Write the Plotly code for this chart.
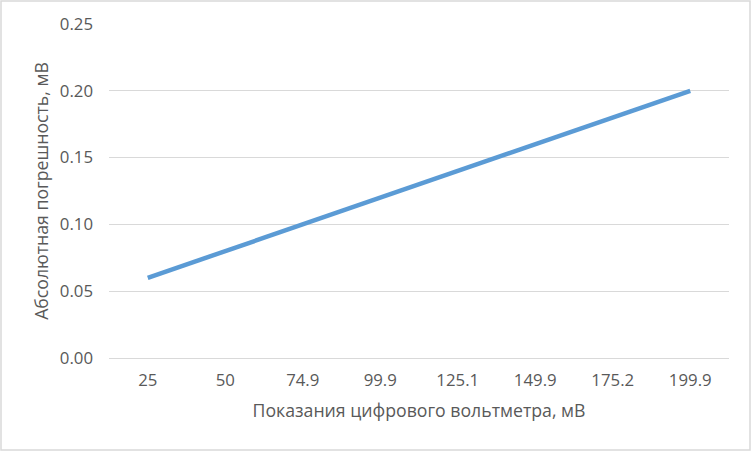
import plotly.graph_objects as go

categories = ["25", "50", "74.9", "99.9", "125.1", "149.9", "175.2", "199.9"]
errors = [0.06, 0.08, 0.10, 0.12, 0.14, 0.16, 0.18, 0.20]
y_ticks = [0.00, 0.05, 0.10, 0.15, 0.20, 0.25]

W, H = 752, 452
L, R, T, B = 109, 23, 24, 94
pw, ph = W - L - R, H - T - B

fig = go.Figure()
fig.add_trace(go.Scatter(
    x=list(range(len(categories))), y=errors, mode="lines",
    line=dict(color="#5B9BD5", width=4.5),
    hoverinfo="skip", showlegend=False,
))

font = "'Open Sans', sans-serif"
fig.update_layout(
    width=W, height=H,
    margin=dict(l=L, r=R, t=T, b=B),
    paper_bgcolor="white", plot_bgcolor="white",
    font=dict(family=font, color="#595959", size=16),
    xaxis=dict(
        range=[-0.5, len(categories) - 0.5],
        tickvals=list(range(len(categories))), ticktext=categories,
        showgrid=False, zeroline=False, showline=False,
        ticks="", ticklabelstandoff=10,
        tickfont=dict(size=16.8, color="#595959"),
        title=dict(text="Показания цифрового вольтметра, мВ",
                   font=dict(size=17.7, color="#595959"), standoff=14),
    ),
    yaxis=dict(
        range=[0, 0.25], tickvals=y_ticks,
        ticktext=[f"{v:.2f}" for v in y_ticks],
        showgrid=True, gridcolor="#D9D9D9", gridwidth=1,
        zeroline=True, zerolinecolor="#D9D9D9", zerolinewidth=1,
        showline=False, ticks="", ticklabelstandoff=15,
        tickfont=dict(size=16.8, color="#595959"),
        title=dict(text="Абсолютная погрешность, мВ",
                   font=dict(size=17.7, color="#595959"), standoff=6),
    ),
)

# outer chart border
fig.add_shape(type="rect", xref="paper", yref="paper",
              x0=(1 - L) / pw, x1=(W - 2 - L) / pw,
              y0=-(H - 2 - T - ph) / ph, y1=1 + (T - 1) / ph,
              line=dict(color="#D9D9D9", width=1.5), layer="below")

fig.write_html("out.html", config={"displayModeBar": False},
               post_script="document.body.style.margin='0';")
